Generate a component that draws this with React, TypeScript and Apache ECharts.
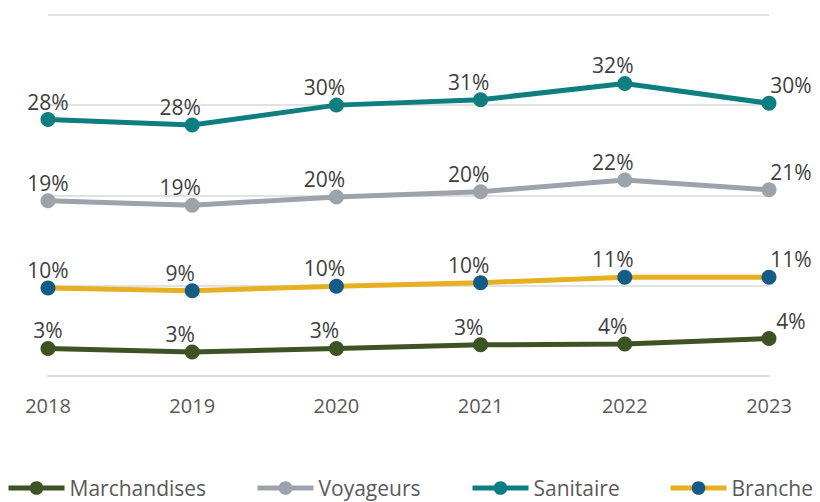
import React, { useEffect, useRef } from "react";
import * as echarts from "echarts";

const years = ["2018", "2019", "2020", "2021", "2022", "2023"];
const seriesNames = ["Marchandises", "Voyageurs", "Sanitaire", "Branche"];
const marchandises = [3.0, 2.6, 3.0, 3.4, 3.5, 4.1];
const voyageurs = [19.4, 18.9, 19.8, 20.4, 21.7, 20.6];
const sanitaire = [28.4, 27.8, 30.0, 30.6, 32.4, 30.2];
const branche = [9.7, 9.4, 9.9, 10.3, 10.9, 10.9];

const FONT = "'Open Sans', 'Noto Sans', sans-serif";
const legendLefts = [6, 255, 470, 668];

function makeSeries(name: string, values: number[], lineColor: string, markerColor: string) {
  const last = values.length - 1;
  return {
    name,
    type: "line",
    data: values.map((v, i) => ({
      value: v,
      label: { offset: i === 0 ? [0, 0] : i === last ? [22, 0] : [-12, 0] },
    })),
    symbol: "circle",
    symbolSize: 15,
    lineStyle: { color: lineColor, width: 5 },
    itemStyle: { color: markerColor },
    label: {
      show: true,
      position: "top",
      distance: 0,
      color: "#404040",
      fontSize: 21,
      fontFamily: FONT,
      formatter: (p: any) => Math.round(p.value) + "%",
    },
  };
}

export default function App() {
  const ref = useRef<HTMLDivElement>(null);
  useEffect(() => {
    if (!ref.current) return;
    const chart = echarts.init(ref.current, undefined, { renderer: "svg" });
    chart.setOption({
      animation: false,
      backgroundColor: "#ffffff",
      grid: { left: 48, right: 51, top: 15, bottom: 126.5, containLabel: false },
      xAxis: {
        type: "category",
        data: years,
        boundaryGap: false,
        axisLine: { show: true, lineStyle: { color: "#D9D9D9", width: 1.5 } },
        axisTick: { show: false },
        axisLabel: { color: "#595959", fontSize: 20, fontFamily: FONT, margin: 20 },
      },
      yAxis: {
        type: "value",
        min: 0,
        max: 40,
        interval: 10,
        axisLabel: { show: false },
        axisLine: { show: false },
        axisTick: { show: false },
        splitLine: { lineStyle: { color: "#D9D9D9", width: 1.5 } },
      },
      legend: seriesNames.map((n, i) => ({
        left: legendLefts[i],
        top: 477,
        padding: 0,
        itemWidth: 56,
        itemHeight: 17,
        lineStyle: { width: 5 },
        textStyle: { color: "#595959", fontSize: 21, fontFamily: FONT, lineHeight: 22 },
        data: [n],
      })),
      series: [
        makeSeries(seriesNames[0], marchandises, "#3E5323", "#3E5323"),
        makeSeries(seriesNames[1], voyageurs, "#9DA3AB", "#9DA3AB"),
        makeSeries(seriesNames[2], sanitaire, "#0F7E80", "#0F7E80"),
        makeSeries(seriesNames[3], branche, "#E6B020", "#145C86"),
      ],
    });
    return () => chart.dispose();
  }, []);
  return (
    <div
      ref={ref}
      style={{ position: "fixed", left: 0, top: 0, width: 820, height: 502 }}
    />
  );
}
